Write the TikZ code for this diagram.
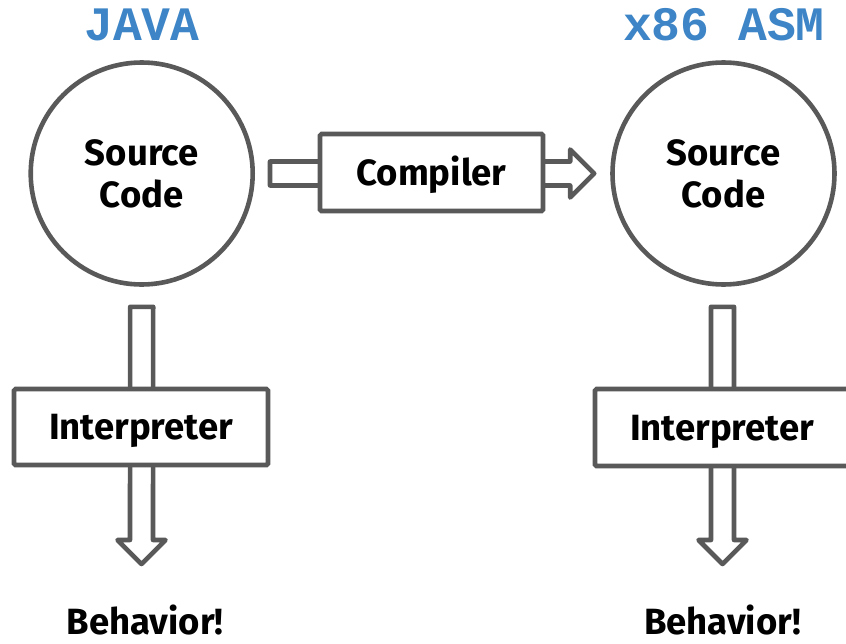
\documentclass[tikz,border=0pt]{standalone}
\usepackage{fontspec}
\setmainfont{Fira Sans}
\newfontfamily\codefont{Liberation Mono}
\usetikzlibrary{calc}
\definecolor{linegray}{HTML}{595959}
\definecolor{langblue}{HTML}{3D85C6}
\tikzset{
  blockarrow/.style={draw=linegray, line width=4.6pt, line join=round, fill=white},
  srcnode/.style={circle, draw=linegray, line width=4.6pt, fill=white, minimum size=222pt, inner sep=0pt,
    align=center, font=\fontsize{36.5}{42}\selectfont\bfseries},
  procbox/.style={rectangle, draw=linegray, line width=4.6pt, fill=white, rounded corners=1.5pt,
    inner sep=0pt, text height=25pt, text depth=0pt, font=\fontsize{36.5}{42}\selectfont\bfseries},
  langlabel/.style={text=langblue, font=\fontsize{48}{50}\selectfont\codefont\bfseries},
  outlabel/.style={font=\fontsize{36.5}{42}\selectfont\bfseries, anchor=base},
}
\begin{document}
\begin{tikzpicture}[x=1pt, y=-1pt]
\useasboundingbox (0,0) rectangle (846,643);
\clip (0,0) rectangle (846,643);

% headers
\node[langlabel] (java) at (142,25) {JAVA};
\node[langlabel] (asm) at (724,25) {x86 ASM};

% source circles
\node[srcnode] (srcL) at (141.7,173.5) {Source\\Code};
\node[srcnode] (srcR) at (723.5,173.5) {Source\\Code};

% horizontal hollow arrow (compiler)
\coordinate (hT) at ($(srcL.east)+(15,0)$);
\coordinate (hP) at ($(srcR.west)+(-16,0)$);
\draw[blockarrow] ($(hT)+(0,-12)$) -- ($(hP)+(-24,-12)$) -- ($(hP)+(-24,-24)$) -- (hP)
  -- ($(hP)+(-24,24)$) -- ($(hP)+(-24,12)$) -- ($(hT)+(0,12)$) -- cycle;
\node[procbox, minimum width=223pt, minimum height=77pt] (comp) at (431.5,172.5) {Compiler};

% left vertical arrow
\coordinate (lT) at ($(srcL.south)+(0,20)$);
\coordinate (lP) at (141.5,564);
\draw[blockarrow] ($(lT)+(-11.5,0)$) -- ($(lP)+(-11.5,-24)$) -- ($(lP)+(-24,-24)$) -- (lP)
  -- ($(lP)+(24,-24)$) -- ($(lP)+(11.5,-24)$) -- ($(lT)+(11.5,0)$) -- cycle;
\node[procbox, minimum width=254pt, minimum height=76pt] (intL) at (141,427) {Interpreter};

% right vertical arrow
\coordinate (rT) at ($(srcR.south)+(-1,20)$);
\coordinate (rP) at (722.5,564);
\draw[blockarrow] ($(rT)+(-11.5,0)$) -- ($(rP)+(-11.5,-24)$) -- ($(rP)+(-24,-24)$) -- (rP)
  -- ($(rP)+(24,-24)$) -- ($(rP)+(11.5,-24)$) -- ($(rT)+(11.5,0)$) -- cycle;
\node[procbox, minimum width=254pt, minimum height=77pt] (intR) at (722,427.5) {Interpreter};

% outputs
\node[outlabel] (behL) at (145,634) {Behavior!};
\node[outlabel] (behR) at (722.5,634) {Behavior!};
\end{tikzpicture}
\end{document}
